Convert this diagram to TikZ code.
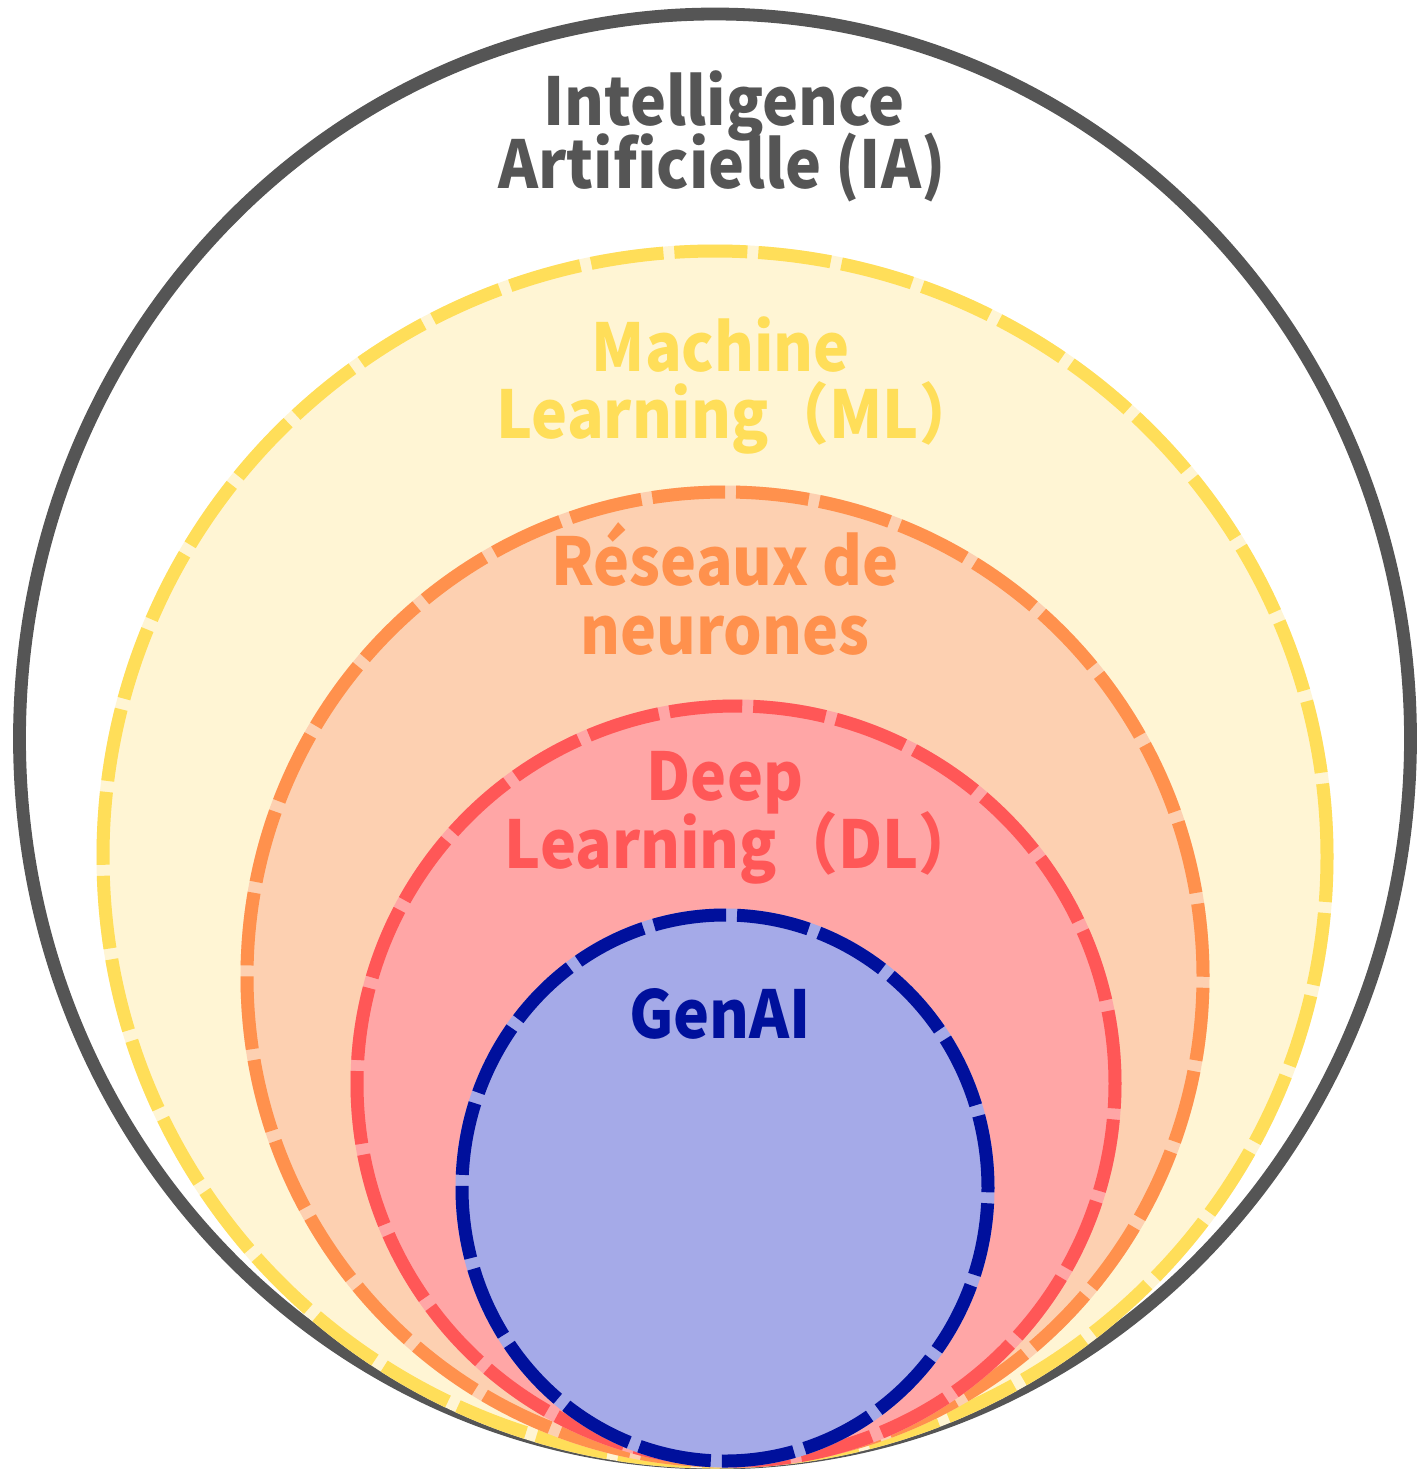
\documentclass[tikz,border=0pt]{standalone}
\usepackage{fontspec}
\setmainfont{Noto Sans CJK SC}[FakeStretch=0.92]
\definecolor{iagray}{HTML}{555555}
\definecolor{mlline}{HTML}{FFDE59}
\definecolor{mlfill}{HTML}{FFF5D4}
\definecolor{rnline}{HTML}{FF914D}
\definecolor{rnfill}{HTML}{FDD0B1}
\definecolor{dlline}{HTML}{FF5757}
\definecolor{dlfill}{HTML}{FFA6A6}
\definecolor{galine}{HTML}{00109C}
\definecolor{gafill}{HTML}{A5AAE8}
\tikzset{
  lbl/.style={font=\bfseries\fontsize{33}{40}\selectfont, anchor=base, inner sep=0pt},
  ringbase/.style={line width=6.5pt},
  ringdash/.style={line width=6.5pt, dash pattern=on 36.5pt off 5.5pt},
}
\begin{document}
\begin{tikzpicture}[x=0.5pt,y=-0.5pt]
\useasboundingbox (0,0) rectangle (1422,1469);
% outer IA
\draw[draw=iagray, line width=6.4pt] (715,738.5) ellipse [x radius=347.75pt, y radius=362.25pt];
% ML
\path[ringbase, fill=mlfill, draw=mlfill] (715,856.5) ellipse [x radius=306pt, y radius=302.75pt];
\draw[ringdash, draw=mlline] (715,856.5) ellipse [x radius=306pt, y radius=302.75pt];
% Reseaux
\path[ringbase, fill=rnfill, draw=rnfill] (725,976.5) ellipse [x radius=239pt, y radius=242.25pt];
\draw[ringdash, draw=rnline] (725,976.5) ellipse [x radius=239pt, y radius=242.25pt];
% DL
\path[ringbase, fill=dlfill, draw=dlfill] (736,1083.5) ellipse [x radius=189.5pt, y radius=188.75pt];
\draw[ringdash, draw=dlline] (736,1083.5) ellipse [x radius=189.5pt, y radius=188.75pt];
% GenAI
\path[ringbase, fill=gafill, draw=gafill] (725,1188) ellipse [x radius=131.5pt, y radius=136.5pt];
\draw[ringdash, draw=galine] (725,1188) ellipse [x radius=131.5pt, y radius=136.5pt];
% labels
\node[lbl, text=iagray] (ia1) at (724,125) {Intelligence};
\node[lbl, text=iagray] (ia2) at (722,188) {Artificielle (IA)};
\node[lbl, text=mlline] (ml1) at (721,371) {Machine};
\node[lbl, text=mlline] (ml2) at (738,438) {Learning（ML）};
\node[lbl, text=rnline] (rn1) at (725,585) {Réseaux de};
\node[lbl, text=rnline] (rn2) at (725,654) {neurones};
\node[lbl, text=dlline] (dl1) at (725,800) {Deep};
\node[lbl, text=dlline] (dl2) at (742,868) {Learning（DL）};
\node[lbl, text=galine] (ga) at (720,1038) {GenAI};
\end{tikzpicture}
\end{document}
